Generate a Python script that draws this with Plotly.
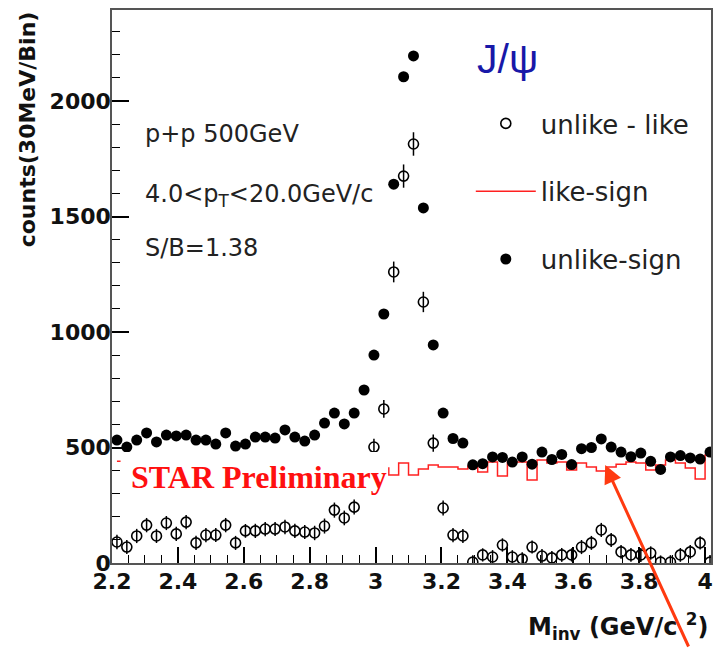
import numpy as np
import plotly.graph_objects as go

# ---- data (30 MeV bins) ----
mass = [2.215, 2.245, 2.275, 2.305, 2.335, 2.365, 2.395, 2.425, 2.455, 2.485,
        2.515, 2.545, 2.575, 2.605, 2.635, 2.665, 2.695, 2.725, 2.755, 2.785,
        2.815, 2.845, 2.875, 2.905, 2.935, 2.965, 2.995, 3.025, 3.055, 3.085,
        3.115, 3.145, 3.175, 3.205, 3.235, 3.265, 3.295, 3.325, 3.355, 3.385,
        3.415, 3.445, 3.475, 3.505, 3.535, 3.565, 3.595, 3.625, 3.655, 3.685,
        3.715, 3.745, 3.775, 3.805, 3.835, 3.865, 3.895, 3.925, 3.955, 3.985,
        4.015]

unlike_sign = [532, 502, 532, 563, 524, 554, 550, 554, 532, 532,
               515, 563, 506, 515, 545, 545, 541, 576, 545, 528,
               554, 606, 649, 602, 649, 749, 900, 1078, 1640, 2105,
               2195, 1537, 944, 649, 539, 519, 425, 430, 459, 457,
               437, 459, 428, 480, 448, 470, 426, 495, 500, 537,
               502, 480, 460, 476, 440, 405, 459, 465, 455, 450,
               480]

unlike_minus_like = [91, 69, 117, 164, 117, 173, 126, 177, 87, 121,
                     121, 164, 87, 139, 139, 147, 147, 156, 139, 134,
                     130, 160, 229, 195, 242, 330, 502, 667, 1260, 1675,
                     1814, 1130, 519, 238, 121, 117, 4, 35, 26, 78,
                     26, 17, 69, 30, 22, 35, 35, 69, 87, 143,
                     100, 48, 35, 35, 43, 4, 4, 35, 48, 87,
                     4]

like_sign = [441, 433, 415, 399, 407, 381, 424, 377, 445, 411,
             394, 399, 419, 376, 406, 398, 394, 420, 406, 394,
             424, 446, 420, 407, 407, 419, 398, 411, 381, 433,
             381, 407, 424, 416, 416, 407, 420, 394, 437, 377,
             437, 437, 359, 446, 433, 437, 403, 433, 416, 398,
             416, 428, 437, 433, 403, 424, 446, 433, 411, 364,
             468]

x_ticks = [2.2, 2.4, 2.6, 2.8, 3.0, 3.2, 3.4, 3.6, 3.8, 4.0]
x_ticktext = ["2.2", "2.4", "2.6", "2.8", "3", "3.2", "3.4", "3.6", "3.8", "4"]
y_ticks = [0, 500, 1000, 1500, 2000]

# statistical error of the subtracted spectrum
err = np.sqrt(np.array(unlike_sign) + np.array(like_sign))

W, H = 715, 648
L, R, T, B = 112, 2, 10, 85
PW, PH = W - L - R, H - T - B


def px(x):
    return (x - L) / PW


def py(y):
    return (H - B - y) / PH


SANS = "DejaVu Sans"

fig = go.Figure()
fig.add_trace(go.Scatter(
    x=mass, y=like_sign, mode="lines", name="like-sign",
    line=dict(shape="hvh", color="#ff2020", width=1.5),
    legendrank=2, legendgroup="b"))
fig.add_trace(go.Scatter(
    x=mass, y=unlike_minus_like, mode="markers", name="unlike - like",
    marker=dict(symbol="circle-open", size=10, color="black",
                line=dict(width=1.6, color="black")),
    error_y=dict(type="data", array=err, color="black", thickness=1.5, width=0),
    legendrank=1, legendgroup="a"))
fig.add_trace(go.Scatter(
    x=mass, y=unlike_sign, mode="markers", name="unlike-sign",
    marker=dict(symbol="circle", size=11, color="black"),
    legendrank=3, legendgroup="c"))

fig.update_layout(
    width=W, height=H,
    margin=dict(l=L, r=R, t=T, b=B, pad=0),
    paper_bgcolor="white", plot_bgcolor="white",
    showlegend=True,
    legend=dict(x=px(472), y=py(100), xanchor="left", yanchor="top",
                font=dict(family=SANS, size=26, color="#222"),
                bgcolor="rgba(0,0,0,0)", tracegroupgap=31, itemwidth=60,
                traceorder="grouped"),
    xaxis=dict(range=[2.2, 4.018], tickmode="array", tickvals=x_ticks,
               ticktext=x_ticktext,
               ticks="inside", ticklen=16, tickwidth=1.5, tickcolor="black",
               minor=dict(dtick=0.05, tick0=2.2, ticks="inside", ticklen=8,
                          tickwidth=1, tickcolor="black"),
               showgrid=False, zeroline=False, showline=True, mirror=True,
               linecolor="#555", linewidth=1.5,
               tickfont=dict(family=SANS, size=22, weight="bold", color="#111"),
               ticklabelstandoff=-2),
    yaxis=dict(range=[0, 2394], tickmode="array", tickvals=y_ticks,
               ticks="inside", ticklen=17, tickwidth=1.5, tickcolor="black",
               minor=dict(dtick=100, tick0=0, ticks="inside", ticklen=8,
                          tickwidth=1, tickcolor="black"),
               showgrid=False, zeroline=False, showline=True, mirror=True,
               linecolor="#555", linewidth=1.5,
               tickfont=dict(family=SANS, size=22, weight="bold", color="#111"),
               ticklabelstandoff=-5),
)

# white box behind the "STAR Preliminary" label
fig.add_shape(type="rect", xref="x", yref="y", x0=2.226, x1=3.038, y0=280, y1=480,
              fillcolor="white", line=dict(width=0), layer="above")

ann = []
ann.append(dict(text="p+p 500GeV", x=px(143), y=py(134)))
ann.append(dict(text="4.0&lt;p<sub>T</sub>&lt;20.0GeV/c", x=px(143), y=py(195)))
ann.append(dict(text="S/B=1.38", x=px(143), y=py(248)))
for a in ann:
    a.update(xref="paper", yref="paper", xanchor="left", yanchor="middle",
             showarrow=False, font=dict(family=SANS, size=24, color="#222"))

ann.append(dict(text="J/\u03c8", x=px(476), y=py(59), xref="paper", yref="paper",
                xanchor="left", yanchor="middle", showarrow=False,
                font=dict(family="Liberation Sans", size=41, color="#1818a8")))
ann.append(dict(text="STAR Preliminary", x=px(129), y=py(477), xref="paper", yref="paper",
                xanchor="left", yanchor="middle", showarrow=False,
                font=dict(family="Liberation Serif", size=32, weight="bold", color="#ff1010")))
ann.append(dict(text="counts(30MeV/Bin)", x=px(27), y=py(129), xref="paper", yref="paper",
                xanchor="center", yanchor="middle", textangle=-90, showarrow=False,
                font=dict(family=SANS, size=22, weight="bold", color="#111")))
ann.append(dict(text="M<sub>inv</sub> (GeV/c <sup>2</sup>)", x=px(712), y=py(626),
                xref="paper", yref="paper", xanchor="right", yanchor="middle",
                showarrow=False,
                font=dict(family=SANS, size=24, weight="bold", color="#111")))
ann.append(dict(text="", x=3.697, y=424, xref="x", yref="y", ax=84, ay=183,
                showarrow=True, arrowhead=2, arrowsize=1.2, arrowwidth=3,
                arrowcolor="#ff3a10"))
fig.update_layout(annotations=ann)

fig.write_html("out.html")
